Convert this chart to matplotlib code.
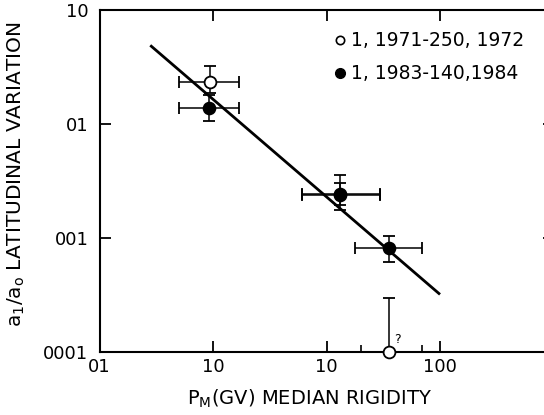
import matplotlib
matplotlib.use("Agg")
import matplotlib.pyplot as plt
from matplotlib.lines import Line2D
import numpy as np

# ---- data ----
fill_x = [0.92, 13.1, 35.3]
fill_y = [0.139, 0.0245, 0.0081]
fill_ylo = [0.106, 0.0177, 0.0061]
fill_yhi = [0.178, 0.0357, 0.0105]
fill_xlo = [0.50, 6.05, 17.7]
fill_xhi = [1.70, 29.6, 69.0]

open_x = [0.95, 13.1]
open_y = [0.234, 0.0240]
open_ylo = [0.188, 0.0194]
open_yhi = [0.32, 0.0306]
open_xlo = [0.50, 6.05]
open_xhi = [1.70, 29.6]

lim_x = [35.3]
lim_y = [0.001]
lim_yhi = [0.0030]

fit_x = [0.28, 100.0]
fit_y = [0.49, 0.0032]

xtick_vals = [0.1, 1.0, 10.0, 100.0]
xtick_labels = ["01", "10", "10", "100"]
ytick_vals = [0.001, 0.01, 0.1, 1.0]
ytick_labels = ["0001", "001", "01", "10"]
xminor_vals = [20.0, 70.0]

legend_labels = ["1, 1971-250, 1972", "1, 1983-140,1984"]

# ---- figure ----
W, H = 544, 415
fig = plt.figure(figsize=(W / 100, H / 100), dpi=100)
left_px, right_px, top_px, bot_px = 99.5, 553.5, 10, 352
ax = fig.add_axes([left_px / W, 1 - bot_px / H, (right_px - left_px) / W, (bot_px - top_px) / H])
ax.set_xscale("log")
ax.set_yscale("log")
ax.set_xlim(0.1, 1000)
ax.set_ylim(0.001, 1.0)

for s in ax.spines.values():
    s.set_linewidth(1.5)

# fit line
ax.plot(fit_x, fit_y, color="black", lw=2.0, solid_capstyle="butt", zorder=2)

def err(vals, lo, hi):
    return [np.array(vals) - np.array(lo), np.array(hi) - np.array(vals)]

ax.errorbar(open_x, open_y, yerr=err(open_y, open_ylo, open_yhi),
            xerr=err(open_x, open_xlo, open_xhi), fmt="o", ms=8.5,
            mfc="white", mec="black", mew=1.3, ecolor="black", elinewidth=1.1,
            capsize=4, capthick=1.1, zorder=3)
ax.errorbar(fill_x, fill_y, yerr=err(fill_y, fill_ylo, fill_yhi),
            xerr=err(fill_x, fill_xlo, fill_xhi), fmt="o", ms=8.5,
            mfc="black", mec="black", mew=1.3, ecolor="black", elinewidth=1.1,
            capsize=4, capthick=1.1, zorder=4)
eb = ax.errorbar(lim_x, lim_y, yerr=[[0], np.array(lim_yhi) - np.array(lim_y)],
                 fmt="o", ms=8.5, mfc="white", mec="black", mew=1.3,
                 ecolor="black", elinewidth=1.1, capsize=4, capthick=1.1, zorder=5)
eb.lines[0].set_clip_on(False)
ax.text(lim_x[0] * 1.12, lim_y[0] * 1.12, "?", fontsize=9, ha="left", va="bottom")

# ticks
ax.set_xticks(xtick_vals)
ax.set_xticklabels(xtick_labels)
ax.set_xticks(xminor_vals, minor=True)
ax.set_xticklabels([], minor=True)
ax.set_yticks(ytick_vals)
ax.set_yticklabels(ytick_labels)
ax.yaxis.set_minor_locator(matplotlib.ticker.NullLocator())
ax.tick_params(axis="both", which="major", direction="in", length=8, width=1.3,
               labelsize=13, top=True, right=True)
ax.tick_params(axis="x", which="minor", direction="in", length=5, width=1.2, top=False)
ax.tick_params(axis="x", which="major", pad=4)
ax.tick_params(axis="y", which="major", pad=8)
for t, v in zip(ax.yaxis.get_major_ticks(), ytick_vals):
    if v in (0.001, 1.0):
        t.tick1line.set_visible(False)
        t.tick2line.set_visible(False)
for t, v in zip(ax.xaxis.get_major_ticks(), xtick_vals):
    if v == 0.1:
        t.tick1line.set_visible(False)
        t.tick2line.set_visible(False)

# legend
handles = [Line2D([], [], ls="none", marker="o", ms=6, mfc="white", mec="black", mew=1.2),
           Line2D([], [], ls="none", marker="o", ms=7, mfc="black", mec="black")]
ax.legend(handles, legend_labels, loc="upper left",
          bbox_to_anchor=(325 / W, 1 - 22 / H), bbox_transform=fig.transFigure,
          frameon=False, fontsize=13.5, handlelength=0.6, handletextpad=0.3,
          labelspacing=0.75, borderpad=0)

# axis labels
fig.text(309 / W, 1 - 399 / H, r"P$_\mathregular{M}$(GV) MEDIAN RIGIDITY",
         fontsize=14, ha="center", va="center")
fig.text(16 / W, 1 - 174 / H, r"a$_\mathregular{1}$/a$_\mathregular{o}$ LATITUDINAL VARIATION",
         fontsize=14.5, ha="center", va="center", rotation=90)

fig.savefig("out.png", dpi=100)
